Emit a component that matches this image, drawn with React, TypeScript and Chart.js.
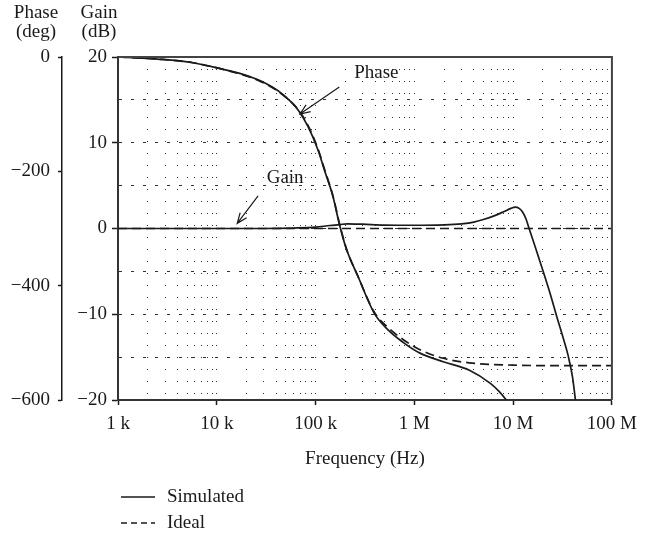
import React, { useEffect, useRef } from "react";
import { Chart, registerables } from "chart.js";

Chart.register(...registerables);

const FONT_FAMILY = "'Liberation Serif', 'DejaVu Serif', serif";
const INK = "#1a1a1a";

// ---- axis ticks ----
const xTickValues = [1e3, 1e4, 1e5, 1e6, 1e7, 1e8];
const xTickLabels = ["1 k", "10 k", "100 k", "1 M", "10 M", "100 M"];
const gainTickValues = [20, 10, 0, -10, -20];
const gainTickLabels = ["20", "10", "0", "\u221210", "\u221220"];
const phaseTickValues = [0, -200, -400, -600];
const phaseTickLabels = ["0", "\u2212200", "\u2212400", "\u2212600"];

// ---- series ----
const gainSimFreq = [1e3, 1e4, 3e4, 6e4, 1e5, 1.4e5, 1.75e5, 2.1e5, 3e5, 5e5, 1e6, 2e6, 3e6, 4e6, 5e6, 6.5e6, 8e6, 9.5e6, 1.05e7, 1.15e7, 1.25e7, 1.35e7, 1.45e7, 1.7e7, 2e7, 2.4e7, 2.8e7, 3.2e7, 3.6e7, 4e7, 4.3e7];
const gainSimDb = [0, 0, 0, 0.05, 0.15, 0.35, 0.45, 0.55, 0.5, 0.4, 0.38, 0.43, 0.55, 0.75, 1.05, 1.5, 1.95, 2.35, 2.5, 2.35, 1.9, 1.1, 0.0, -2.4, -4.9, -7.8, -10.5, -12.7, -14.8, -17.4, -20.3];

const gainIdealFreq = [1e3, 1e8];
const gainIdealDb = [0, 0];

const phaseSimFreq = [1e3, 2.66e3, 5.73e3, 1.06e4, 1.81e4, 2.87e4, 4.55e4, 6.68e4, 8.4e4, 1.06e5, 1.23e5, 1.5e5, 1.75e5, 2.05e5, 2.69e5, 3.92e5, 5.32e5, 7.82e5, 1.14e6, 1.96e6, 3.61e6, 5.88e6, 7.2e6, 8.9e6];
const phaseSimDeg = [0, -4, -10, -20, -30, -43, -64, -93, -122, -163, -198, -244, -294, -336, -384, -448, -476, -500, -518, -533, -548, -571, -585, -604];

const phaseIdealFreq = [1e3, 2.66e3, 5.73e3, 1.06e4, 1.81e4, 2.87e4, 4.55e4, 6.68e4, 8.4e4, 1.06e5, 1.23e5, 1.5e5, 1.75e5, 2.05e5, 2.69e5, 3.92e5, 5.32e5, 7.82e5, 1.14e6, 1.96e6, 3.61e6, 1e7, 3.6e7, 1e8];
const phaseIdealDeg = [0, -4, -10, -20, -31, -44, -65, -92, -120, -161, -196, -243, -292, -335, -384, -446, -472, -495, -512, -527, -535, -539, -540, -540];

// ---- annotations (data coordinates: frequency, gain dB) ----
const noteTexts = ["Phase", "Gain"];
const noteTextAt = [[2.46e5, 18.1], [3.2e4, 5.9]];
const noteArrowFrom = [[1.74e5, 16.5], [2.62e4, 3.8]];
const noteArrowTo = [[6.95e4, 13.35], [1.61e4, 0.6]];

const legendLabels = ["Simulated", "Ideal"];
const legendDashes = [[], [6, 4]];

const headerPhase = ["Phase", "(deg)"];
const headerGain = ["Gain", "(dB)"];
const xTitle = "Frequency (Hz)";

const toPoints = (xs: number[], ys: number[]) => xs.map((x, i) => ({ x, y: ys[i] }));

const logTicks = () => {
  const t: { value: number; major: boolean }[] = [];
  for (let d = 1e3; d < 1e8; d *= 10) {
    for (let m = 1; m <= 9; m++) t.push({ value: d * m, major: m === 1 });
  }
  t.push({ value: 1e8, major: true });
  return t;
};

const font = (size: number) => ({ family: FONT_FAMILY, size });

const decorPlugin = {
  id: "decor",
  afterDraw(chart: any) {
    const { ctx, chartArea } = chart;
    const xs = chart.scales.x;
    const gs = chart.scales.gain;
    const ps = chart.scales.phase;
    ctx.save();
    // frame top & right
    ctx.strokeStyle = "#444";
    ctx.lineWidth = 2;
    ctx.beginPath();
    ctx.moveTo(chartArea.left, chartArea.top);
    ctx.lineTo(chartArea.right, chartArea.top);
    ctx.lineTo(chartArea.right, chartArea.bottom);
    ctx.stroke();

    // headers
    ctx.fillStyle = INK;
    ctx.font = `19px ${FONT_FAMILY}`;
    ctx.textAlign = "center";
    ctx.textBaseline = "middle";
    const phx = ps.right - 26;
    const ghx = gs.right - 19;
    ctx.fillText(headerPhase[0], phx, 13);
    ctx.fillText(headerPhase[1], phx, 32);
    ctx.fillText(headerGain[0], ghx, 13);
    ctx.fillText(headerGain[1], ghx, 32);

    // annotations
    ctx.textAlign = "left";
    ctx.lineWidth = 1.2;
    ctx.strokeStyle = INK;
    for (let i = 0; i < noteTexts.length; i++) {
      const tx = xs.getPixelForValue(noteTextAt[i][0]);
      const ty = gs.getPixelForValue(noteTextAt[i][1]);
      ctx.fillText(noteTexts[i], tx, ty);
      const x1 = xs.getPixelForValue(noteArrowFrom[i][0]);
      const y1 = gs.getPixelForValue(noteArrowFrom[i][1]);
      const x2 = xs.getPixelForValue(noteArrowTo[i][0]);
      const y2 = gs.getPixelForValue(noteArrowTo[i][1]);
      ctx.beginPath();
      ctx.moveTo(x1, y1);
      ctx.lineTo(x2, y2);
      const ang = Math.atan2(y1 - y2, x1 - x2);
      const L = 11;
      const spread = 0.38;
      ctx.moveTo(x2 + L * Math.cos(ang + spread), y2 + L * Math.sin(ang + spread));
      ctx.lineTo(x2, y2);
      ctx.lineTo(x2 + L * Math.cos(ang - spread), y2 + L * Math.sin(ang - spread));
      ctx.stroke();
    }

    // legend
    const lx = 121;
    const ly = 497;
    for (let i = 0; i < legendLabels.length; i++) {
      const y = ly + i * 26;
      ctx.beginPath();
      ctx.setLineDash(legendDashes[i]);
      ctx.lineWidth = 1.4;
      ctx.moveTo(lx, y);
      ctx.lineTo(lx + 34, y);
      ctx.stroke();
      ctx.setLineDash([]);
      ctx.fillText(legendLabels[i], lx + 46, y);
    }
    ctx.restore();
  },
};

export default function App() {
  const ref = useRef<HTMLCanvasElement | null>(null);

  useEffect(() => {
    if (!ref.current) return;
    const lineBase = {
      pointRadius: 0,
      borderColor: INK,
      borderWidth: 1.7,
      fill: false,
      cubicInterpolationMode: "monotone" as const,
    };
    const chart = new Chart(ref.current, {
      type: "line",
      data: {
        datasets: [
          { ...lineBase, label: "Gain ideal", data: toPoints(gainIdealFreq, gainIdealDb), yAxisID: "gain", borderDash: [9, 5] },
          { ...lineBase, label: "Phase ideal", data: toPoints(phaseIdealFreq, phaseIdealDeg), yAxisID: "phase", borderDash: [9, 5] },
          { ...lineBase, label: "Gain simulated", data: toPoints(gainSimFreq, gainSimDb), yAxisID: "gain" },
          { ...lineBase, label: "Phase simulated", data: toPoints(phaseSimFreq, phaseSimDeg), yAxisID: "phase" },
        ],
      },
      options: {
        responsive: false,
        animation: false,
        events: [],
        layout: { padding: { left: 0, right: 27, top: 57, bottom: 57 } },
        plugins: { legend: { display: false }, tooltip: { enabled: false } },
        scales: {
          x: {
            type: "logarithmic",
            position: "bottom",
            min: 1e3,
            max: 1e8,
            afterBuildTicks: (s: any) => {
              s.ticks = logTicks();
            },
            afterFit: (s: any) => {
              s.height = 80;
            },
            ticks: {
              autoSkip: false,
              maxRotation: 0,
              minRotation: 0,
              padding: 8,
              color: INK,
              font: font(19),
              callback: (v: any) => {
                const i = xTickValues.indexOf(Number(v));
                return i >= 0 ? xTickLabels[i] : "";
              },
            },
            grid: {
              color: (c: any) => {
                const v = c.tick ? c.tick.value : 0;
                return v === 1e3 || v === 1e8 ? "rgba(0,0,0,0)" : "#333";
              },
              lineWidth: 1,
              tickLength: 5,
              tickWidth: 1.5,
              tickBorderDash: [],
              tickColor: (c: any) => (c.tick && xTickValues.indexOf(c.tick.value) >= 0 ? INK : "rgba(0,0,0,0)"),
            },
            border: { display: true, color: "#333", width: 2, dash: [1, 11] },
            title: { display: true, text: xTitle, color: INK, font: font(19), padding: { top: 0, bottom: 10 } },
          },
          gain: {
            type: "linear",
            position: "left",
            min: -20,
            max: 20,
            weight: 0,
            afterFit: (s: any) => {
              s.width = 56;
            },
            ticks: {
              stepSize: 5,
              padding: 5,
              color: INK,
              font: font(19),
              callback: (v: any) => {
                const i = gainTickValues.indexOf(Number(v));
                return i >= 0 ? gainTickLabels[i] : "";
              },
            },
            grid: {
              color: (c: any) => {
                const v = c.tick ? c.tick.value : 0;
                return v === 20 || v === -20 ? "rgba(0,0,0,0)" : "#333";
              },
              lineWidth: 1,
              tickLength: 6,
              tickWidth: 1.5,
              tickBorderDash: [],
              tickColor: (c: any) => (c.tick && gainTickValues.indexOf(c.tick.value) >= 0 ? INK : "rgba(0,0,0,0)"),
            },
            border: { display: true, color: "#333", width: 2, dash: [3, 9] },
          },
          phase: {
            type: "linear",
            position: "left",
            min: -600,
            max: 0,
            weight: 1,
            afterFit: (s: any) => {
              s.width = 62;
            },
            ticks: {
              stepSize: 200,
              padding: 8,
              color: INK,
              font: font(19),
              callback: (v: any) => {
                const i = phaseTickValues.indexOf(Number(v));
                return i >= 0 ? phaseTickLabels[i] : "";
              },
            },
            grid: {
              drawOnChartArea: false,
              tickLength: 4,
              tickWidth: 1.5,
              tickColor: INK,
              tickBorderDash: [],
            },
            border: { display: true, color: INK, width: 1.5 },
          },
        },
      } as any,
      plugins: [decorPlugin],
    });
    return () => chart.destroy();
  }, []);

  return (
    <div style={{ position: "absolute", left: 0, top: 0, width: 645, height: 537, background: "#fff" }}>
      <canvas ref={ref} width={645} height={537} style={{ display: "block", width: 645, height: 537 }} />
    </div>
  );
}
